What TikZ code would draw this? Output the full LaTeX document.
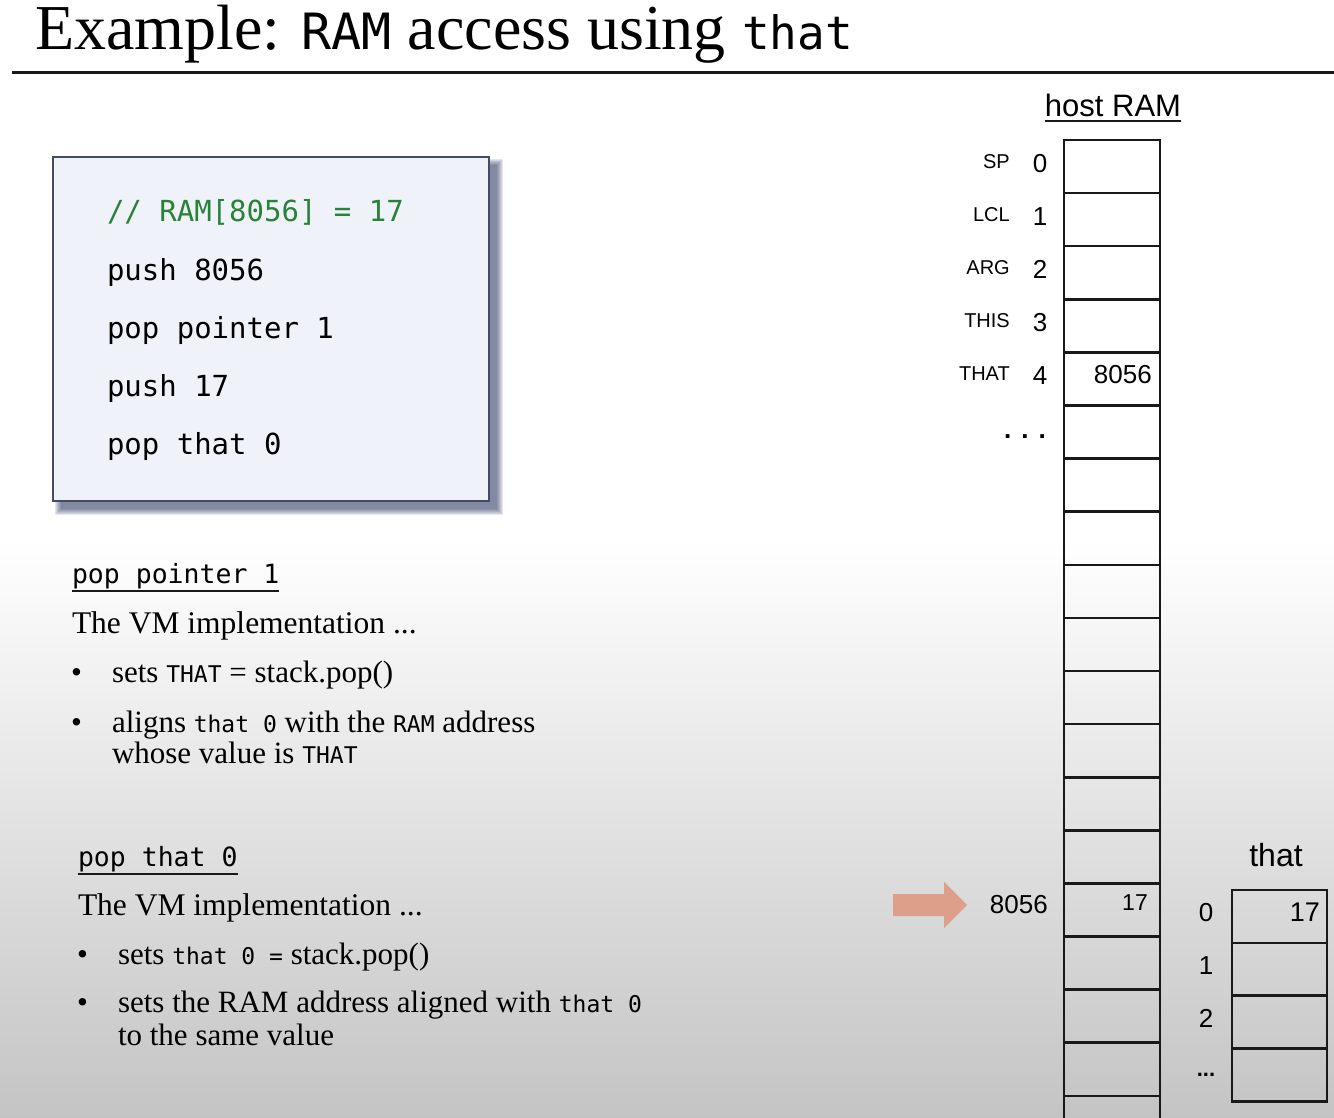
\documentclass[tikz,border=0pt]{standalone}
\usepackage{fontspec}
\setmainfont{Liberation Serif}
\setsansfont{Liberation Sans}
\setmonofont{DejaVu Sans Mono}
\newcommand{\fsz}[1]{\fontsize{#1}{#1}\selectfont}
\newcommand{\mn}[1]{{\fontsize{23}{28}\selectfont\ttfamily #1}}
\definecolor{linec}{RGB}{25,25,25}
\definecolor{codegreen}{RGB}{40,130,55}
\definecolor{boxfill}{RGB}{240,242,250}
\definecolor{boxdraw}{RGB}{70,75,95}
\definecolor{shadowc}{RGB}{50,60,105}
\definecolor{arrowc}{RGB}{221,158,138}
\definecolor{bgbot}{RGB}{196,196,196}
\begin{document}
\begin{tikzpicture}[x=1pt,y=-1pt,
  ramcell/.style={draw=linec, line width=2.6pt, minimum width=96pt, minimum height=53.1pt, inner sep=0pt, outer sep=0pt},
  thatcell/.style={ramcell, minimum width=95pt, minimum height=52.8pt},
  txt/.style={inner sep=0pt, outer sep=0pt, anchor=base west},
  reglab/.style={inner sep=0pt, font=\sffamily\fsz{20}, anchor=east},
  idx/.style={inner sep=0pt, font=\sffamily\fsz{26}},
  val/.style={inner sep=0pt, font=\sffamily\fsz{26}, anchor=east},
  uline/.style={line width=1.3pt, linec},
]
\useasboundingbox (0,0) rectangle (1334,1118);
\clip (0,0) rectangle (1334,1118);
% background
\fill[white] (0,0) rectangle (1334,541);
\shade[top color=white, bottom color=bgbot] (0,540) rectangle (1334,1118);

% title
\node[txt] (title) at (35,50) {\fsz{64}Example: {\fsz{50}\ttfamily RAM} access using {\fsz{46}\ttfamily that}};
\draw[line width=3pt, linec] (12,73) -- (1334,73);

% code box with shadow
\foreach \s in {0,...,6}
  \fill[shadowc, opacity=0.12] (61-\s,165-\s) rectangle (497+\s,509+\s);
\node[draw=boxdraw, line width=1.2pt, fill=boxfill, minimum width=436pt, minimum height=344pt, inner sep=0pt] (codebox) at (271,329) {};
\node[txt, text=codegreen, font=\ttfamily\fsz{29}] (c0) at (107,222) {// RAM[8056] = 17};
\node[txt, font=\ttfamily\fsz{29}] (c1) at (107,280) {push 8056};
\node[txt, font=\ttfamily\fsz{29}] (c2) at (107,338) {pop pointer 1};
\node[txt, font=\ttfamily\fsz{29}] (c3) at (107,396) {push 17};
\node[txt, font=\ttfamily\fsz{29}] (c4) at (107,454) {pop that 0};

% pop pointer 1 section
\node[txt, font=\ttfamily\fsz{26.5}] (h1) at (72,583) {pop pointer 1};
\draw[uline] ([yshift=-8pt]h1.base west) -- ([yshift=-8pt]h1.base east);
\node[txt, font=\fsz{31.5}] (b1) at (72,633) {The VM implementation ...};
\node[txt, font=\fsz{31}] (bu1) at (71,682) {\textbullet};
\node[txt, font=\fsz{31}] (t1) at (112,682) {sets \mn{THAT} = stack.pop()};
\node[txt, font=\fsz{31}] (bu2) at (71,732) {\textbullet};
\node[txt, font=\fsz{31}] (t2) at (112,732) {aligns \mn{that 0} with the \mn{RAM} address};
\node[txt, font=\fsz{31}] (t3) at (112,763) {whose value is \mn{THAT}};

% pop that 0 section
\node[txt, font=\ttfamily\fsz{26.5}] (h2) at (78,866) {pop that 0};
\draw[uline] ([yshift=-8pt]h2.base west) -- ([yshift=-8pt]h2.base east);
\node[txt, font=\fsz{31.5}] (b2) at (78,915) {The VM implementation ...};
\node[txt, font=\fsz{31}] (bu3) at (77,964) {\textbullet};
\node[txt, font=\fsz{31}] (t4) at (118,964) {sets \mn{that 0 =} stack.pop()};
\node[txt, font=\fsz{31}] (bu4) at (77,1012) {\textbullet};
\node[txt, font=\fsz{31}] (t5) at (118,1012) {sets the RAM address aligned with \mn{that 0}};
\node[txt, font=\fsz{31}] (t6) at (118,1045) {to the same value};

% host RAM
\node[inner sep=0pt, anchor=base, font=\sffamily\fsz{31}] (host) at (1113,117) {host RAM};
\draw[uline] ([yshift=-4pt]host.base west) -- ([yshift=-4pt]host.base east);
\foreach \k in {0,...,18}
  \node[ramcell] (ram\k) at (1112, {140+53.1*\k+26.55}) {};
\foreach \k/\n in {0/SP,1/LCL,2/ARG,3/THIS,4/THAT} {
  \node[reglab] at ([xshift=-54pt,yshift=5pt]ram\k.west) {\n};
  \node[idx] at ([xshift=-24pt,yshift=3pt]ram\k.west) {\k};
}
\node[idx, font=\sffamily\bfseries\fsz{26}] (dots) at ([xshift=-39pt,yshift=-5pt]ram5.west) {.\hspace{10pt}.\hspace{10pt}.};
\node[val] (v4) at ([xshift=-8pt,yshift=4pt]ram4.east) {8056};
\node[val] (addr) at ([xshift=-16pt,yshift=5pt]ram14.west) {8056};
\node[val, font=\sffamily\fsz{23}] (v14) at ([xshift=-12pt,yshift=7pt]ram14.east) {17};

% arrow
\fill[arrowc] (893,894) -- (944,894) -- (944,882) -- (967,905) -- (944,928) -- (944,916) -- (893,916) -- cycle;

% that segment
\foreach \k in {0,...,3}
  \node[thatcell] (that\k) at (1279.5, {890+52.8*\k+26.4}) {};
\node[inner sep=0pt, font=\sffamily\fsz{32}] (thatlab) at (1276,855) {that};
\foreach \k in {0,1,2}
  \node[idx] at ([xshift=-26pt,yshift=4pt]that\k.west) {\k};
\node[idx, font=\sffamily\bfseries\fsz{22}] (tdots) at ([xshift=-26pt,yshift=0pt]that3.west) {...};
\node[val, font=\sffamily\fsz{27}] (tv0) at ([xshift=-7pt,yshift=4pt]that0.east) {17};
\end{tikzpicture}
\end{document}
